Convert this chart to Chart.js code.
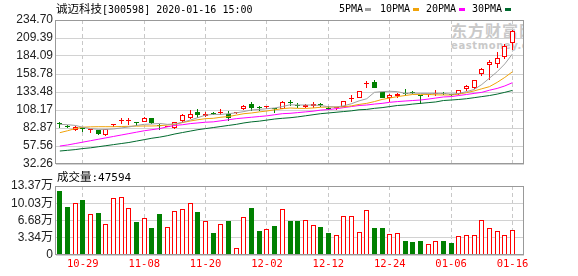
<!DOCTYPE html>
<html>
<head>
<meta charset="utf-8">
<script src="https://cdn.jsdelivr.net/npm/chart.js@4.4.1/dist/chart.umd.min.js"></script>
<style>
  body { margin: 0; background: #fff; width: 578px; height: 276px; overflow: hidden; position: relative; }
  canvas { position: absolute; left: 0; }
  #price { top: 0; }
  #vol { top: 170px; }
  .t { position: absolute; white-space: nowrap; color: #000; line-height: 1; }
  .mono { font-family: "DejaVu Sans Mono", monospace; }
  .cjk { font-family: "Noto Sans CJK SC", sans-serif; }
  .sw { position: absolute; width: 6px; height: 3px; }
  #mark { position: absolute; left: 427px; top: 21px; width: 96px; height: 32px; overflow: hidden; color: #c9c9c9; }
</style>
</head>
<body>
<div id="mark">
  <div class="t cjk" style="left:24px;top:1px;font-size:16px;font-weight:bold;letter-spacing:1px;color:#c9c9c9">东方财富网</div>
  <div class="t" style="left:24px;top:20px;font-family:'DejaVu Sans',sans-serif;font-size:10px;font-weight:bold;letter-spacing:0.6px;color:#c9c9c9">eastmoney.com</div>
</div>
<canvas id="price" width="578" height="180"></canvas>
<canvas id="vol" width="578" height="106"></canvas>

<div class="t" style="left:56px;top:3px;font-size:11.5px">
  <span class="cjk">诚迈科技</span><span class="mono" style="font-size:10px">[300598] 2020-01-16 15:00</span>
</div>

<div class="t mono" style="left:339px;top:4px;font-size:10px">5PMA</div>
<div class="sw" style="left:365px;top:8px;background:#a0a0a0"></div>
<div class="t mono" style="left:380px;top:4px;font-size:10px">10PMA</div>
<div class="sw" style="left:413px;top:8px;background:#f0a30a"></div>
<div class="t mono" style="left:426px;top:4px;font-size:10px">20PMA</div>
<div class="sw" style="left:459px;top:8px;background:#ff00ff"></div>
<div class="t mono" style="left:472px;top:4px;font-size:10px">30PMA</div>
<div class="sw" style="left:505px;top:8px;background:#006a2e"></div>

<div class="t" style="left:57px;top:171px;font-size:11.5px">
  <span class="cjk">成交量</span><span class="mono" style="font-size:11px">:47594</span>
</div>

<script>
// 交易日
const dates = ['10-24','10-25','10-28','10-29','10-30','10-31','11-01','11-04','11-05','11-06',
  '11-07','11-08','11-11','11-12','11-13','11-14','11-15','11-18','11-19','11-20',
  '11-21','11-22','11-25','11-26','11-27','11-28','11-29','12-02','12-03','12-04',
  '12-05','12-06','12-09','12-10','12-11','12-12','12-13','12-16','12-17','12-18',
  '12-19','12-20','12-23','12-24','12-25','12-26','12-27','12-30','12-31','01-02',
  '01-03','01-06','01-07','01-08','01-09','01-10','01-13','01-14','01-15','01-16'];
const dateTicks = ['10-29','11-08','11-20','12-02','12-12','12-24','01-06','01-16'];

// K线
const openP = [88.5,85.2,79.5,82.2,79.5,80,72.5,87,93.3,92.3,
  90.6,91.7,97.3,86,84.8,83.5,92.1,96.5,105.8,100,
  103,104,103,104,109,117,112.7,112,110,110,
  119.2,114.9,112.5,114.2,115.5,110.7,111,112.8,124.2,124.5,
  144.5,147,133,124.5,127.2,131.3,133.1,129.3,129,130.5,
  131.8,130,130.1,138,138.5,158.2,171,172.3,182,203];
const highP = [91,86.5,86,83.7,82,80.5,82,88.3,97.5,97.3,
  92,98,97.5,88,85.5,92,102,107.6,110,106,
  105.8,109,107,104.8,114.6,119.8,113.8,113,110.2,120.8,
  121.7,117.4,116.5,119.8,118,114.2,111.8,121.5,129.3,135.5,
  149,149.8,133.5,130,132.5,137,134.9,129.5,131,135.7,
  134,130.2,136.5,144,151,167,178,189.7,201.5,220];
const lowP = [83,83,78,77.2,76,73.5,72,84.5,89,87.5,
  86,91,89,80,84,81,90.3,96,97.3,99,
  100.6,101.6,93,103,107.6,106.2,106.8,110,104.4,109.5,
  113.8,111.4,110.8,111.4,113,107.6,108.5,112,119.8,124.5,
  138.5,138.5,125,119,125.5,128,131,116.5,126,128,
  129.5,127.3,129.5,135,138,156,151,167.6,180,192];
const closeP = [88,84.7,84.5,81.5,81.5,74,81,88.2,93.9,93,
  90,97.3,89.5,85.5,85.3,91.5,101,103,101.6,103,
  102.5,104.5,96.5,104.6,114,111.4,111.2,112.8,109.2,119.4,
  118.6,114.3,115,116,114.9,110.1,111.6,121.2,124.8,134.9,
  145.5,139.5,125.5,129.3,131,130.8,132.6,127.5,130.4,131.5,
  131.2,129.5,135.7,141.5,150.4,166.2,175,181.7,198,219];

// 均线
const ma5 = [88,87.5,86.5,84,82,81,80.9,81.5,83,84.3,
  86.5,88,88.5,89.3,88,88.5,91,94,97.5,101,
  102,102,103,104.2,106,108.2,109,110,111,113,
  115.5,115.2,115.2,115.2,114.5,112.8,112.4,114,117,121,
  124,133,134,134.5,134,131.5,132,131.5,131.5,131.5,
  131.5,130.5,131.5,134,137,144,153,162,173,187];
const ma10 = [76.3,79,82,84,84.5,84.7,84.7,84.7,85,85.2,
  85.5,85.7,85.7,86,87,88,90.5,92.7,94.5,96,
  96.5,98,99,101,103,104,105.5,106.8,108.5,110,
  111,110.5,110.4,111,112,112.4,112.4,112.5,114,116,
  117.5,120,123,125,127,128.5,130,130.1,130,129.5,
  129.3,129.3,130.5,132.5,135,138,141,147,154,162];
const ma20 = [57.5,59,61,63,65,67,69,71,73,75,
  77,79,80.5,82,84.5,86.5,87.5,89,90,91,
  91.5,93,94.5,96,97,98,99,100,101.5,103,
  103.5,104.5,105.5,106.5,108,108.8,110,111.5,113,114.5,
  115.2,116.5,117.5,119,120,120.8,121.5,122.2,123.5,125,
  126.5,127,128.5,130,131.5,133,136,138.5,142,146.6];
const ma30 = [50.5,51.5,52.5,54,55,56.5,58,59.5,61,62.5,
  64.5,66.5,68.5,70,72,74.5,76.5,78.5,80.5,82,
  83.5,85,86.5,88,90,91.5,92.5,94,95.5,96.5,
  97.3,98.5,100,101.5,103,104,105,106,107,108.5,
  109,110.5,111.5,113,114.5,115.2,116.5,117.5,118.5,119.5,
  121.5,122.2,123,124,125.5,127,128.5,130.5,133,135.7];

// 成交量(万)
const volume = [12.40,9.30,10.01,10.72,7.88,8.14,5.94,10.98,11.17,9.04,
  6.39,7.10,5.30,7.94,5.43,8.46,8.91,10.01,8.33,6.52,
  4.26,5.94,6.59,1.36,7.30,9.11,4.65,5.04,5.62,8.91,
  6.59,6.59,6.72,5.75,5.43,4.26,3.81,7.49,7.49,4.39,
  8.65,5.23,5.23,4.00,4.20,2.71,2.52,2.71,2.07,2.78,
  2.71,2.33,3.62,3.81,3.81,6.72,5.23,4.59,3.81,4.76];

const priceTicks = [234.70,209.39,184.09,158.78,133.48,108.17,82.87,57.56,32.26];
const volumeTicks = [13.37,10.03,6.68,3.34,0];

const RED = '#ff0000';
const GREEN = '#008000';
const labels = dates.concat(['']); // 右侧留一格空位
const up = i => closeP[i] >= openP[i];

// 边框
const frame = {
  id: 'frame',
  afterDraw(chart) {
    const { ctx, chartArea: a } = chart;
    ctx.save();
    ctx.strokeStyle = '#999';
    ctx.lineWidth = 1;
    ctx.strokeRect(Math.round(a.left) - 0.5, Math.round(a.top) + 0.5,
      Math.round(a.right - a.left), Math.round(a.bottom - a.top) - 1);
    ctx.restore();
  }
};

// 柱子对齐到整像素，避免发虚
const snap = {
  id: 'snap',
  beforeDatasetsDraw(chart) {
    chart.data.datasets.forEach((ds, k) => {
      const meta = chart.getDatasetMeta(k);
      if (meta.type !== 'bar') return;
      meta.data.forEach(el => {
        el.x = Math.floor(el.x) + 0.5;
        el.y = Math.round(el.y);
        el.base = Math.round(el.base);
      });
    });
  }
};

function xAxis(showLabels) {
  return {
    offset: true,
    grid: {
      offset: false,
      drawTicks: false,
      color: c => dateTicks.includes(labels[c.index]) ? '#c8c8c8' : 'rgba(0,0,0,0)'
    },
    border: { display: false, dash: [4, 3] },
    ticks: {
      display: showLabels,
      autoSkip: false,
      maxRotation: 0,
      padding: 3,
      color: RED,
      font: { family: 'DejaVu Sans Mono', size: 10.5 },
      callback: (v, i) => dateTicks.includes(labels[i]) ? labels[i] : ''
    },
    afterFit: s => { s.height = showLabels ? 21 : 0; }
  };
}

const tickFont = { family: 'Liberation Sans', size: 12 };

new Chart(document.getElementById('price'), {
  type: 'bar',
  data: {
    labels: labels,
    datasets: [
      { type: 'line', data: ma5, borderColor: '#a0a0a0', borderWidth: 1, pointRadius: 0, order: 0 },
      { type: 'line', data: ma10, borderColor: '#f0a30a', borderWidth: 1, pointRadius: 0, order: 0 },
      { type: 'line', data: ma20, borderColor: '#ff00ff', borderWidth: 1, pointRadius: 0, order: 0 },
      { type: 'line', data: ma30, borderColor: '#006a2e', borderWidth: 1, pointRadius: 0, order: 0 },
      {
        data: dates.map((d, i) => [lowP[i], highP[i]]),
        grouped: false, barThickness: 1, order: 2, inflateAmount: 0,
        backgroundColor: c => up(c.dataIndex) ? RED : GREEN
      },
      {
        data: dates.map((d, i) => [openP[i], closeP[i]]),
        grouped: false, barThickness: 5, order: 1, inflateAmount: 0,
        borderWidth: 1, borderSkipped: false, minBarLength: 1,
        backgroundColor: c => up(c.dataIndex) ? '#fff' : GREEN,
        borderColor: c => up(c.dataIndex) ? RED : GREEN
      }
    ]
  },
  options: {
    responsive: false,
    animation: false,
    layout: { padding: { left: 0, right: 54, top: 20, bottom: 16 } },
    plugins: { legend: { display: false }, tooltip: { enabled: false } },
    scales: {
      x: xAxis(false),
      y: {
        min: 32.26, max: 234.70,
        afterBuildTicks: s => { s.ticks = priceTicks.map(v => ({ value: v })); },
        afterFit: s => { s.width = 56; },
        grid: { color: '#d2d2d2', drawTicks: false },
        border: { display: false },
        ticks: { autoSkip: false, padding: 3, color: '#222', font: tickFont, callback: v => v.toFixed(2) }
      }
    }
  },
  plugins: [snap, frame]
});

new Chart(document.getElementById('vol'), {
  type: 'bar',
  data: {
    labels: labels,
    datasets: [{
      data: volume,
      barThickness: 5,
      inflateAmount: 0,
      borderWidth: 1,
      borderSkipped: false,
      backgroundColor: c => up(c.dataIndex) ? '#fff' : GREEN,
      borderColor: c => up(c.dataIndex) ? RED : GREEN
    }]
  },
  options: {
    responsive: false,
    animation: false,
    layout: { padding: { left: 0, right: 54, top: 16, bottom: 0 } },
    plugins: { legend: { display: false }, tooltip: { enabled: false } },
    scales: {
      x: xAxis(true),
      y: {
        min: 0, max: 13.37,
        afterBuildTicks: s => { s.ticks = volumeTicks.map(v => ({ value: v })); },
        afterFit: s => { s.width = 56; },
        grid: { color: '#d2d2d2', drawTicks: false },
        border: { display: false },
        ticks: {
          autoSkip: false, padding: 3, color: '#222',
          font: { family: 'Liberation Sans, Noto Sans CJK SC', size: 12 },
          callback: v => v === 0 ? '0' : v.toFixed(2) + '万'
        }
      }
    }
  },
  plugins: [snap, frame]
});
</script>
</body>
</html>
